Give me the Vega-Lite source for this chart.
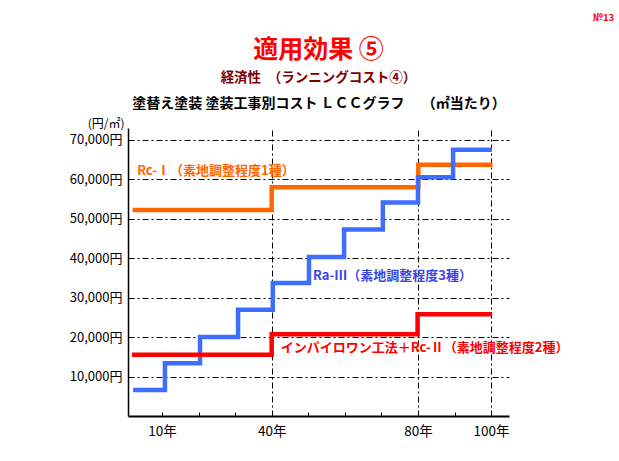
{
  "$schema": "https://vega.github.io/schema/vega-lite/v6.json",
  "width": 381,
  "height": 288,
  "autosize": {"type": "none"},
  "padding": {"left": 128, "top": 128, "right": 110, "bottom": 45},
  "background": "white",
  "config": {"view": {"stroke": null}, "font": "Noto Sans CJK JP"},
  "title": {
    "text": "適用効果 ⑤",
    "subtitle": "経済性　（ランニングコスト④）",
    "anchor": "middle",
    "font": "Noto Sans CJK JP",
    "fontSize": 25,
    "fontWeight": "bold",
    "color": "#FF0000",
    "subtitleFont": "Noto Sans CJK JP",
    "subtitleFontSize": 13.5,
    "subtitleFontWeight": "bold",
    "subtitleColor": "#800000",
    "subtitlePadding": 8,
    "offset": -72
  },
  "datasets": {
    "lines": [
      {"series": "Rc-I", "year": 2.0, "cost": 52200},
      {"series": "Rc-I", "year": 40.0, "cost": 58000},
      {"series": "Rc-I", "year": 80.1, "cost": 63700},
      {"series": "Rc-I", "year": 100.4, "cost": 63700},
      {"series": "Ra-III", "year": 2.1, "cost": 6600},
      {"series": "Ra-III", "year": 10.8, "cost": 13400},
      {"series": "Ra-III", "year": 20.4, "cost": 20000},
      {"series": "Ra-III", "year": 30.8, "cost": 26900},
      {"series": "Ra-III", "year": 40.3, "cost": 33700},
      {"series": "Ra-III", "year": 50.2, "cost": 40300},
      {"series": "Ra-III", "year": 59.8, "cost": 47300},
      {"series": "Ra-III", "year": 70.4, "cost": 54100},
      {"series": "Ra-III", "year": 80.0, "cost": 60500},
      {"series": "Ra-III", "year": 89.6, "cost": 67500},
      {"series": "Ra-III", "year": 100.2, "cost": 67500},
      {"series": "Inpairowan", "year": 1.8, "cost": 15500},
      {"series": "Inpairowan", "year": 40.0, "cost": 20700},
      {"series": "Inpairowan", "year": 79.9, "cost": 25800},
      {"series": "Inpairowan", "year": 100.3, "cost": 25800}
    ],
    "labels": [
      {"series": "Rc-I", "label": "Rc-Ⅰ（素地調整程度1種）", "year": 3.2, "cost": 62100},
      {"series": "Ra-III", "label": "Ra-Ⅲ（素地調整程度3種）", "year": 51.3, "cost": 35500},
      {"series": "Inpairowan", "label": "インパイロワン工法＋Rc-Ⅱ（素地調整程度2種）", "year": 42.5, "cost": 17200}
    ]
  },
  "layer": [
    {
      "data": {"name": "lines"},
      "mark": {"type": "line", "interpolate": "step-after", "strokeWidth": 4.5, "strokeCap": "butt", "strokeJoin": "miter"},
      "encoding": {
        "x": {
          "field": "year", "type": "quantitative",
          "scale": {"domain": [0.7, 104.9], "nice": false, "zero": false},
          "axis": {
            "orient": "bottom",
            "values": [10, 20, 30, 40, 50, 60, 70, 80, 90, 100],
            "labelExpr": "indexof([10, 40, 80, 100], datum.value) >= 0 ? datum.value + '年' : ''",
            "grid": false,
            "domainColor": "black",
            "domainWidth": 2,
            "tickColor": "black",
            "tickSize": -4,
            "tickWidth": 1,
            "labelFontSize": 13.5,
            "labelColor": "black",
            "labelFont": "Noto Sans CJK JP",
            "labelPadding": 12,
            "title": null
          }
        },
        "y": {
          "field": "cost", "type": "quantitative",
          "scale": {"domain": [0, 73000], "nice": false, "zero": true},
          "axis": {
            "orient": "left",
            "values": [10000, 20000, 30000, 40000, 50000, 60000, 70000],
            "labelExpr": "format(datum.value, ',') + '円'",
            "grid": true,
            "gridColor": "black",
            "gridDash": [6, 3, 2, 3],
            "gridWidth": 1,
            "gridOpacity": 1,
            "ticks": false,
            "domainColor": "black",
            "domainWidth": 1.5,
            "labelPadding": 6,
            "labelFontSize": 13,
            "labelColor": "black",
            "labelFont": "Noto Sans CJK JP",
            "title": "(円/㎡)",
            "titleAngle": 0,
            "titleAlign": "right",
            "titleBaseline": "middle",
            "titleX": -4,
            "titleY": -5,
            "titleFontSize": 12,
            "titleFontWeight": "normal",
            "titleColor": "black",
            "titleFont": "Noto Sans CJK JP"
          }
        },
        "stroke": {
          "field": "series", "type": "nominal",
          "scale": {"domain": ["Rc-I", "Ra-III", "Inpairowan"], "range": ["#FF6600", "#3D6EFF", "#FF0000"]},
          "legend": null
        }
      }
    },
    {
      "data": {"name": "labels"},
      "mark": {"type": "text", "align": "left", "baseline": "middle", "fontSize": 13, "fontWeight": "bold", "font": "Noto Sans CJK JP"},
      "encoding": {
        "x": {
          "field": "year", "type": "quantitative",
          "axis": {
            "orient": "top",
            "values": [40, 80, 100],
            "grid": true,
            "gridColor": "black",
            "gridDash": [6, 3, 2, 3],
            "gridWidth": 1,
            "gridOpacity": 1,
            "ticks": false,
            "labels": false,
            "domain": false,
            "title": "塗替え塗装 塗装工事別コスト ＬＣＣグラフ　 （㎡当たり）",
            "titleY": -25,
            "titleBaseline": "middle",
            "titleFontSize": 14,
            "titleFontWeight": "bold",
            "titleColor": "black",
            "titleFont": "Noto Sans CJK JP"
          }
        },
        "y": {
          "field": "cost", "type": "quantitative",
          "axis": {
            "orient": "right",
            "grid": false,
            "ticks": false,
            "labels": false,
            "domain": false,
            "title": "№13",
            "titleAngle": 0,
            "titleX": 94,
            "titleY": -111,
            "titleAlign": "center",
            "titleBaseline": "middle",
            "titleFontSize": 9.5,
            "titleFontWeight": "bold",
            "titleColor": "#FF0000",
            "titleFont": "Noto Sans CJK JP"
          }
        },
        "text": {"field": "label", "type": "nominal"},
        "fill": {
          "field": "series", "type": "nominal",
          "scale": {"domain": ["Rc-I", "Ra-III", "Inpairowan"], "range": ["#FF6600", "#3A46E6", "#FF0000"]},
          "legend": null
        }
      }
    }
  ],
  "resolve": {"axis": {"x": "independent", "y": "independent"}}
}
